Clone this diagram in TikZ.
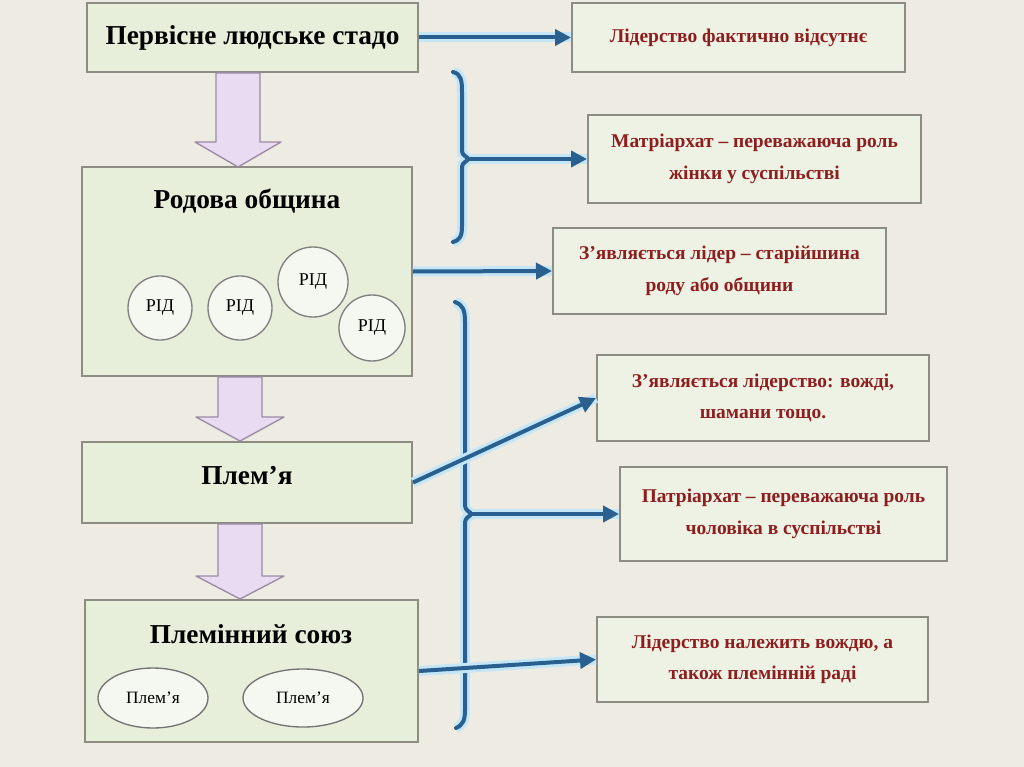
\documentclass[tikz,border=0pt]{standalone}
\usepackage{fontspec}
\setmainfont{Liberation Serif}
\usetikzlibrary{arrows.meta,shapes.geometric}
\definecolor{bg}{HTML}{EEEBE3}
\definecolor{lfill}{HTML}{E7EEDA}
\definecolor{rfill}{HTML}{EDF2E5}
\definecolor{boxline}{HTML}{8C8C82}
\definecolor{txtred}{HTML}{8E1E1E}
\definecolor{arrblue}{HTML}{2A6090}
\definecolor{glow}{HTML}{C4E6F6}
\definecolor{fatfill}{HTML}{E8DBF2}
\definecolor{fatline}{HTML}{9A8AA6}
\def\px{0.75pt}
\tikzset{
  lbox/.style={draw=boxline, line width=1.5pt, fill=lfill, inner sep=0pt},
  rbox/.style={draw=boxline, line width=1.5pt, fill=rfill, inner sep=0pt, align=center, text=txtred, font=\bfseries\fontsize{14.6}{23.5}\selectfont},
  ltitle/.style={font=\bfseries\fontsize{20.5}{22}\selectfont, text=black},
  ridnode/.style={circle, draw=gray, fill=white!60!lfill, line width=1pt, inner sep=0pt, font=\fontsize{13.5}{14}\selectfont},
  plemnode/.style={ellipse, draw=gray!90!black, fill=white!60!lfill, line width=1pt, inner sep=0pt, font=\fontsize{13}{14}\selectfont},
  conn/.style={line width=3pt, draw=arrblue, -{Triangle[length=12pt,width=12pt]}, preaction={draw=glow, line width=7.5pt, -}},
  bracepath/.style={line width=3pt, draw=arrblue, line cap=round, preaction={draw=glow, line width=7.5pt}},
  fatarr/.style={draw=fatline, line width=1pt, fill=fatfill, line join=round}
}
\begin{document}
\begin{tikzpicture}[x=0.75pt,y=-0.75pt]
\useasboundingbox[fill=bg] (0,0) rectangle (1024,767);

% left boxes
\node[lbox, minimum width=331*\px, minimum height=69*\px] (b1) at (252.5,37.5) {};
\node[ltitle] (b1t) at (252.5,38) {Первісне людське стадо};
\node[lbox, minimum width=330*\px, minimum height=209*\px] (b2) at (247,271.5) {};
\node[ltitle] (b2t) at (247,201) {Родова община};
\node[lbox, minimum width=330*\px, minimum height=81*\px] (b3) at (247,482.5) {};
\node[ltitle] (b3t) at (247,476) {Плем'я};
\node[lbox, minimum width=333*\px, minimum height=142*\px] (b4) at (251.5,671) {};
\node[ltitle] (b4t) at (251,634) {Племінний союз};

% circles
\node[ridnode, minimum size=64*\px] (r1c) at (160,308) {РІД};
\node[ridnode, minimum size=64*\px] (r2c) at (240,308) {РІД};
\node[ridnode, minimum size=70*\px] (r3c) at (313,282) {РІД};
\node[ridnode, minimum size=66*\px] (r4c) at (372,328) {РІД};
\node[plemnode, minimum width=110*\px, minimum height=60*\px] (e1) at (153,698) {Плем'я};
\node[plemnode, minimum width=120*\px, minimum height=58*\px] (e2) at (303,698) {Плем'я};

% fat arrows
\draw[fatarr] (216,73) -- (260,73) -- (260,142) -- (281,142) -- (238,167) -- (195,142) -- (216,142) -- cycle;
\draw[fatarr] (218,377) -- (262,377) -- (262,417) -- (284,417) -- (240,441) -- (196,417) -- (218,417) -- cycle;
\draw[fatarr] (218,524) -- (262,524) -- (262,576) -- (284,576) -- (240,599) -- (196,576) -- (218,576) -- cycle;

% right boxes
\node[rbox, minimum width=333*\px, minimum height=69*\px] (r1) at (738.5,37.5) {Лідерство фактично відсутнє};
\node[rbox, minimum width=333*\px, minimum height=88*\px] (r2) at (754.5,159) {Матріархат – переважаюча роль\\ жінки у суспільстві};
\node[rbox, minimum width=333*\px, minimum height=86*\px] (r3) at (719.5,271) {З'являється лідер – старійшина\\ роду або общини};
\node[rbox, minimum width=332*\px, minimum height=86*\px] (r4) at (763,398) {З'являється лідерство: вожді,\\ шамани тощо.};
\node[rbox, minimum width=327*\px, minimum height=94*\px] (r5) at (783.5,514) {Патріархат – переважаюча роль\\ чоловіка в суспільстві};
\node[rbox, minimum width=331*\px, minimum height=85*\px] (r6) at (762.5,659.5) {Лідерство належить вождю, а\\ також племінній раді};

% braces
\coordinate (c1) at (469,159);
\coordinate (c2) at (472,514);
\draw[bracepath] (453,72) .. controls (461,74) and (462,80) .. (462,92) -- (462,148) .. controls (462,154) .. (469,159) .. controls (462,164) .. (462,170) -- (462,226) .. controls (462,236) and (460,240) .. (453,242);
\draw[bracepath] (455,302) .. controls (463,305) and (465,310) .. (465,322) -- (465,502) .. controls (465,509) .. (472,514) .. controls (465,519) .. (465,526) -- (465,710) .. controls (465,720) and (463,725) .. (456,728);

% connectors
\draw[conn] (b1.east) -- (r1.west);
\draw[conn] (c1) -- (r2.west);
\draw[conn] (b2.east) -- (r3.west);
\draw[conn] (b3.east) -- (r4.west);
\draw[conn] (c2) -- (r5.west);
\draw[conn] (b4.east) -- (r6.west);
\end{tikzpicture}
\end{document}
